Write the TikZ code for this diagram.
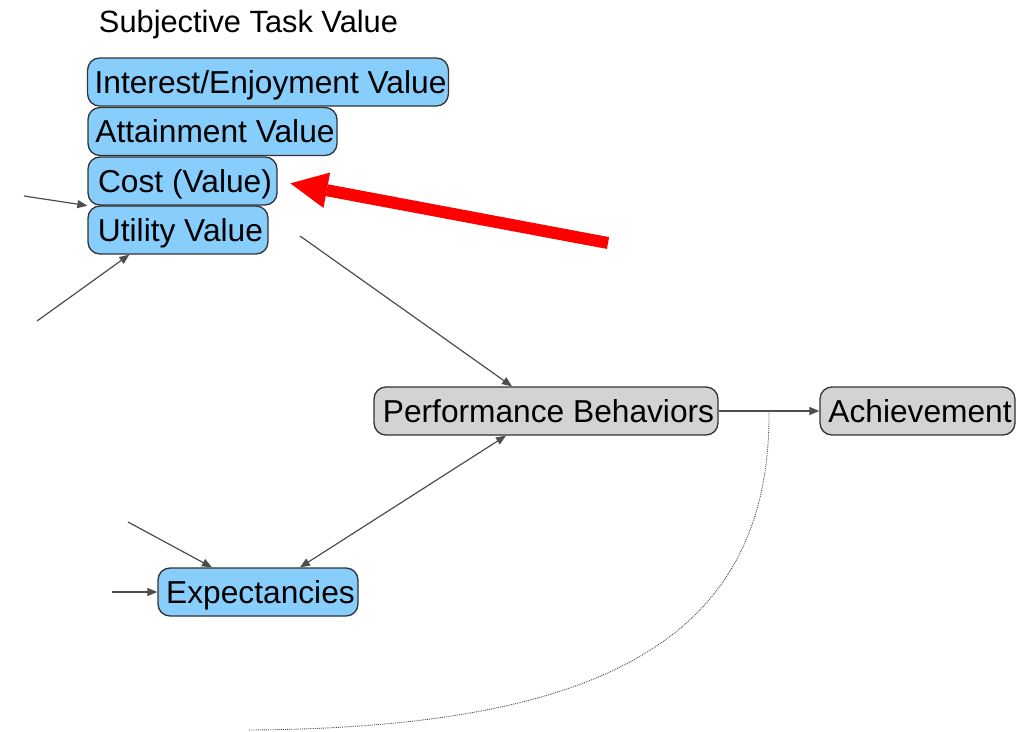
\documentclass[tikz,border=0pt]{standalone}
\usepackage{fontspec}
\setmainfont{Liberation Sans}
\usetikzlibrary{arrows.meta,calc}
\definecolor{valueblue}{RGB}{135,206,252}
\definecolor{outcomegray}{RGB}{211,211,211}
\definecolor{edgegray}{RGB}{77,77,77}
\definecolor{boxline}{RGB}{51,51,51}
\begin{document}
\begin{tikzpicture}[x=1pt,y=-1pt,
  construct/.style={draw=boxline, line width=1.3pt, rounded corners=12pt,
    minimum height=48pt, inner xsep=2pt, inner ysep=0pt,
    text height=22pt, text depth=0pt,
    execute at begin node=\hspace*{5pt},
    font=\fontsize{31.7}{36}\selectfont},
  valuebox/.style={construct, fill=valueblue},
  outcomebox/.style={construct, fill=outcomegray},
  link/.style={draw=edgegray, line width=1.2pt, -{Triangle[length=10pt,width=8pt]}},
  biglink/.style={draw=edgegray, line width=1.2pt, {Triangle[length=10pt,width=8pt]}-{Triangle[length=10pt,width=8pt]}},
  feedback/.style={draw=edgegray, line width=0.9pt, densely dotted},
  pointer/.style={draw=red, line width=12pt, -{Triangle[length=37pt,width=36pt,line width=0pt]}}
]
\useasboundingbox (0,0) rectangle (1020,731);

% heading
\node[anchor=base, inner sep=0pt, font=\fontsize{30.8}{36}\selectfont] (title) at (248.5,32) {Subjective Task Value};

% value components
\node[valuebox, minimum width=360pt] (interest) at (268,82) {Interest/Enjoyment Value};
\node[valuebox, minimum width=249pt] (attain) at (212.5,131.5) {Attainment Value};
\node[valuebox, minimum width=189pt] (cost) at (182.5,181) {Cost (Value)};
\node[valuebox, minimum width=180pt] (utility) at (178,230) {Utility Value};

% expectancies and outcomes
\node[valuebox, minimum width=200pt] (expect) at (258,592) {Expectancies};
\node[outcomebox, minimum width=344pt] (perf) at (546,411) {Performance Behaviors};
\node[outcomebox, minimum width=195pt] (achieve) at (917.5,411) {Achievement};

% loose ends of incoming connectors
\coordinate (inA) at (24,196);
\coordinate (inB) at (37,321);
\coordinate (inC) at (300,236);
\coordinate (inD) at (128,522);
\coordinate (inE) at (112,592);
\coordinate (loopEnd) at (248,730);
\coordinate (pointerTail) at (608,243);

% connectors
\draw[link] (inA) -- (cost.south west);
\draw[link] (inB) -- ([xshift=42pt]utility.south west);
\draw[link] (inC) -- ([xshift=-34pt]perf.north);
\draw[link] (perf.east) -- (achieve.west);
\draw[biglink] ([xshift=42pt]expect.north) -- ([xshift=-40pt]perf.south);
\draw[link] (inD) -- ([xshift=-46pt]expect.north);
\draw[link] (inE) -- (expect.west);

% feedback loop
\coordinate (split) at ($(perf.east)!0.5!(achieve.west)$);
\draw[feedback] (split) .. controls (771,640) and (600,728) .. (loopEnd);

% highlight arrow
\draw[pointer, shorten >=13pt] (pointerTail) -- (cost.east);
\end{tikzpicture}
\end{document}
